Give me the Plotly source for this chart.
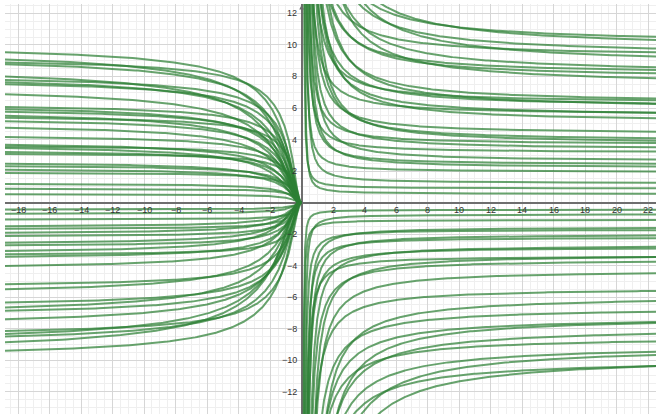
import numpy as np
import plotly.graph_objects as go

# Curves y = c * exp(a / x); level at the left edge, shape parameter a
left_levels = [9.54, 9.09, 8.9, 8.78, 8.0, 7.78, 7.64, 7.51, 6.88, 6.06, 5.93, 5.76, 5.51, 5.38,
               5.17, 4.75, 4.16, 3.67, 3.56, 3.46, 3.21, 3.08, 2.47, 2.30, 2.09, 1.88, 1.18, 0.87, 0.53,
               -0.44, -0.72, -1.08, -1.5, -1.67, -1.92, -2.13, -2.55, -2.72, -3.08, -3.29, -3.44,
               -4.03, -5.19, -5.51, -6.35, -6.66, -6.88, -7.41, -8.15, -8.35, -8.5, -8.88, -9.41]
shape_a = [1.0, 1.3, 0.7, 1.1, 1.5, 0.8, 1.2, 0.9, 1.4, 0.7, 1.1, 0.9, 1.3, 0.6,
           1.0, 1.2, 0.8, 1.1, 0.6, 1.3, 0.9, 0.5, 1.0, 0.7, 0.9, 0.5, 0.7, 0.4, 0.6,
           0.4, 0.6, 0.3, 0.8, 0.5, 0.9, 0.6, 1.0, 0.7, 1.2, 0.5, 0.9, 1.1, 0.8, 1.3,
           0.9, 1.4, 1.0, 1.2, 0.8, 1.5, 1.1, 1.6, 1.0]

x_ticks = [-18, -16, -14, -12, -10, -8, -6, -4, -2, 2, 4, 6, 8, 10, 12, 14, 16, 18, 20, 22]
y_ticks = [-12, -10, -8, -6, -4, -2, 2, 4, 6, 8, 10, 12]

XMIN, XMAX = -18.83, 22.49
YMIN, YMAX = -13.42, 12.6

x_left = -np.geomspace(0.005, 19.5, 500)[::-1]
x_right = np.geomspace(0.01, 23.0, 700)

fig = go.Figure()
for L, a in zip(left_levels, shape_a):
    c = L * np.exp(a / 18.83)
    yl = c * np.exp(a / x_left)
    yr = c * np.exp(np.minimum(a / x_right, 6.0))
    xs = np.concatenate([x_left, [0.0, np.nan], x_right])
    ys = np.concatenate([yl, [0.0, np.nan], yr])
    fig.add_trace(go.Scatter(x=xs, y=ys, mode="lines",
                             line=dict(color="rgba(45,128,52,0.72)", width=2),
                             hoverinfo="skip", showlegend=False))

annotations = []
for t in x_ticks:
    txt = ("\u2212" + str(-t)) if t < 0 else str(t)
    annotations.append(dict(x=t, y=0, xref="x", yref="y", text=txt, showarrow=False,
                            yshift=-7, font=dict(size=9, color="#333", family="Liberation Sans")))
for t in y_ticks:
    txt = ("\u2212" + str(-t)) if t < 0 else str(t)
    annotations.append(dict(x=0, y=t, xref="x", yref="y", text=txt, showarrow=False,
                            xanchor="right", xshift=-3,
                            font=dict(size=9, color="#333", family="Liberation Sans")))
annotations.append(dict(x=0, y=YMAX - 0.05, xref="x", yref="y", ax=0, ay=10, text="",
                        showarrow=True, arrowhead=2, arrowsize=0.8, arrowwidth=1.2,
                        arrowcolor="#6e6e6e"))

axis_common = dict(showgrid=True, gridcolor="#d6d6d6", gridwidth=1, dtick=2, tick0=0,
                   showticklabels=False, ticks="", zeroline=True, zerolinecolor="#6e6e6e",
                   zerolinewidth=1.5, showline=False, automargin=False,
                   minor=dict(dtick=0.5, showgrid=True, gridcolor="#efefef", gridwidth=1))

fig.update_layout(
    width=656, height=414,
    margin=dict(l=5, r=0, t=4, b=0, autoexpand=False),
    paper_bgcolor="white", plot_bgcolor="white",
    xaxis=dict(range=[XMIN, XMAX], **axis_common),
    yaxis=dict(range=[YMIN, YMAX], **axis_common),
    annotations=annotations,
)
fig.write_html("out.html", config={"displayModeBar": False},
               post_script="document.body.style.margin='0';document.body.style.overflow='hidden';")
